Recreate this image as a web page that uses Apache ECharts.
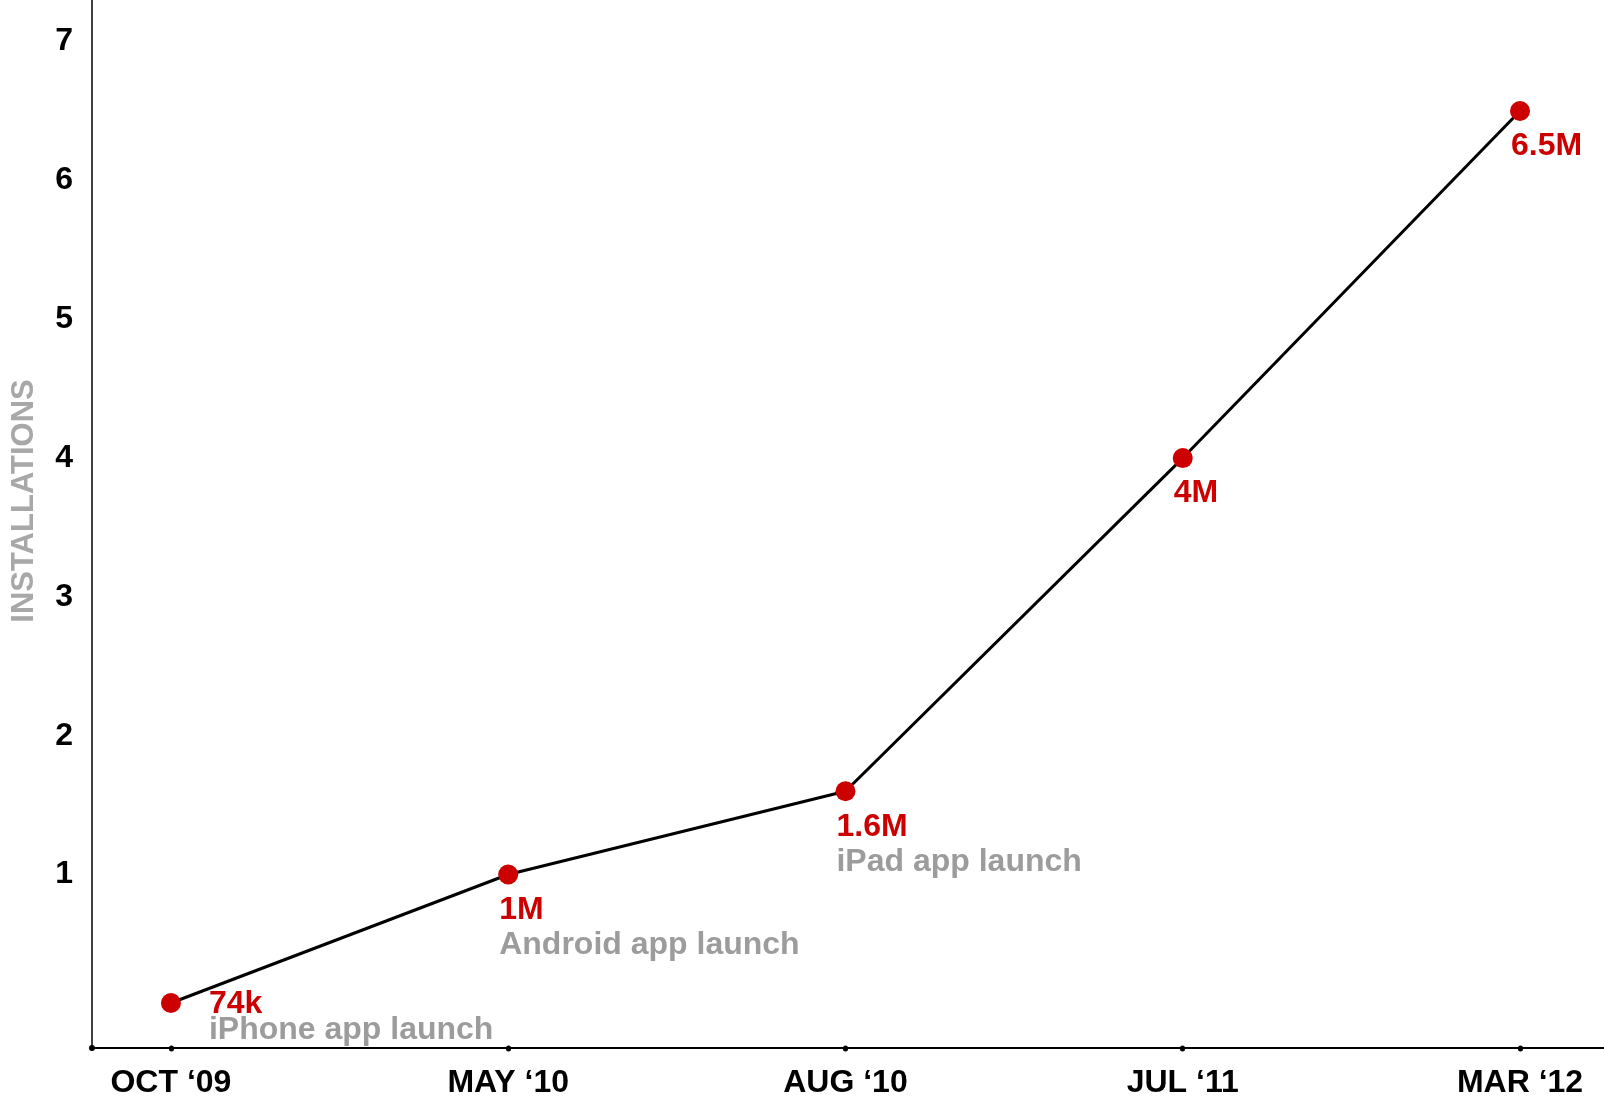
<!DOCTYPE html>
<html>
<head>
<meta charset="utf-8">
<title>Installations</title>
<script src="https://cdn.jsdelivr.net/npm/echarts@6/dist/echarts.min.js"></script>
<style>
  html, body { margin: 0; padding: 0; background: #ffffff; }
  #chart { width: 1604px; height: 1102px; }
</style>
</head>
<body>
<div id="chart"></div>
<script>
// Milestones along the x axis
const periods = ['OCT \u201809', 'MAY \u201810', 'AUG \u201810', 'JUL \u201811', 'MAR \u201812'];
// Installations, in millions
const installsMillions = [0.074, 1, 1.6, 4, 6.5];
// Value captions printed beside each point
const valueLabels = ['74k', '1M', '1.6M', '4M', '6.5M'];
// Launch notes printed under the value captions
const milestones = ['iPhone app launch', 'Android app launch', 'iPad app launch', '', ''];
// Y-axis tick labels
const yTicks = [1, 2, 3, 4, 5, 6, 7];

const FONT = '"Liberation Sans", Arial, Helvetica, sans-serif';
const RED = '#cc0000';
const GREY = '#9c9c9c';

function richStyles(lineHeight) {
  return {
    v: { fontFamily: FONT, fontSize: 32, fontWeight: 'bold', color: RED, lineHeight: lineHeight },
    d: { fontFamily: FONT, fontSize: 32, fontWeight: 'bold', color: GREY, lineHeight: lineHeight }
  };
}

// The first caption sits to the right of its point, clear of the rising line;
// the rest hang just below their points.
const seriesData = installsMillions.map((v, i) => {
  const first = i === 0;
  return {
    value: [i, v],
    label: {
      offset: first ? [38, -12] : [-9, 18],
      rich: richStyles(first ? 26 : 35)
    }
  };
});

const tickIdx = periods.map((_, i) => i);

const chart = echarts.init(document.getElementById('chart'), null, { renderer: 'canvas' });

chart.setOption({
  backgroundColor: '#ffffff',
  animation: false,
  grid: {
    left: 92, right: 0, top: 0, bottom: 54,
    containLabel: false,
    outerBoundsMode: 'none'
  },
  xAxis: {
    type: 'value',
    min: -0.234,
    max: 4.249,
    splitLine: { show: false },
    axisLine: {
      show: true,
      onZero: false,
      symbol: ['circle', 'none'],
      symbolSize: [6, 6],
      lineStyle: { color: '#000000', width: 2 }
    },
    axisTick: {
      show: true,
      customValues: tickIdx,
      length: 1,
      lineStyle: { color: '#000000', width: 5, cap: 'round' }
    },
    axisLabel: {
      customValues: tickIdx,
      formatter: (val) => periods[Math.round(val)] || '',
      margin: 19,
      fontFamily: FONT,
      fontSize: 32,
      fontWeight: 'bold',
      color: '#000000'
    }
  },
  yAxis: {
    type: 'value',
    min: -0.25,
    max: 7.3,
    name: 'INSTALLATIONS',
    nameLocation: 'middle',
    nameRotate: 90,
    nameGap: 52,
    nameTextStyle: {
      fontFamily: FONT,
      fontSize: 31,
      fontWeight: 'bold',
      color: '#a8a8a8',
      padding: [0, 0, 0, 46]
    },
    splitLine: { show: false },
    axisLine: {
      show: true,
      onZero: false,
      lineStyle: { color: '#000000', width: 1.5 }
    },
    axisTick: { show: false },
    axisLabel: {
      customValues: yTicks,
      margin: 19,
      fontFamily: FONT,
      fontSize: 32,
      fontWeight: 'bold',
      color: '#000000'
    }
  },
  series: [{
    type: 'line',
    data: seriesData,
    symbol: 'circle',
    symbolSize: 20,
    itemStyle: { color: RED },
    lineStyle: { color: '#000000', width: 3 },
    label: {
      show: true,
      position: 'inside',
      align: 'left',
      verticalAlign: 'top',
      color: RED,
      formatter: (p) => {
        const i = p.dataIndex;
        let s = '{v|' + valueLabels[i] + '}';
        if (milestones[i]) s += '\n{d|' + milestones[i] + '}';
        return s;
      }
    },
    emphasis: { disabled: true }
  }]
});
</script>
</body>
</html>
